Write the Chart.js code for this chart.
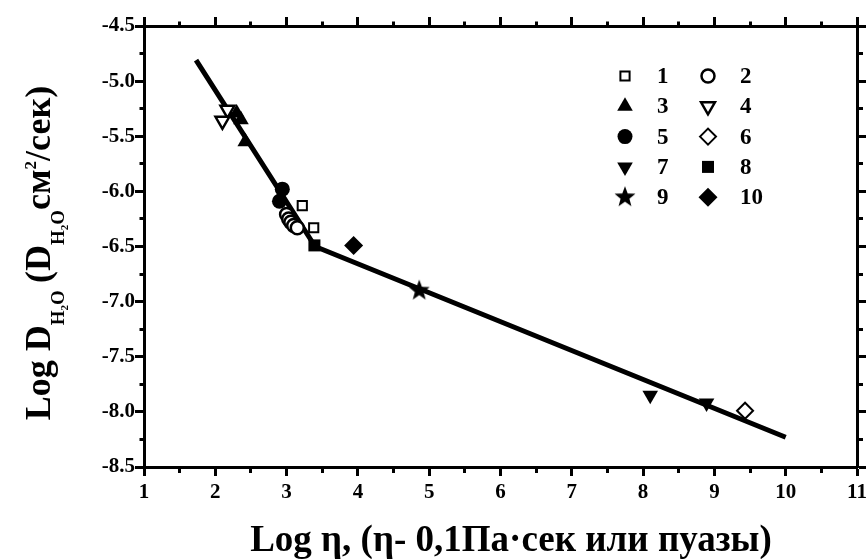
<!DOCTYPE html>
<html>
<head>
<meta charset="utf-8">
<script src="https://cdn.jsdelivr.net/npm/chart.js"></script>
<style>
    html, body { margin: 0; padding: 0; background: #fff; }
    #wrap { width: 868px; height: 559px; }
</style>
</head>
<body>
<div id="wrap"><canvas id="diffChart" width="868" height="559"></canvas></div>
<script>
var SERIF = "'Liberation Serif', 'Times New Roman', serif";

// Log eta / Log D pairs, one array per sample group
var set1 = [[3.22, -6.13], [3.38, -6.33]];
var set2 = [[3.00, -6.21], [3.03, -6.25], [3.06, -6.28], [3.10, -6.31], [3.15, -6.33]];
var set3 = [[2.30, -5.29], [2.36, -5.35], [2.42, -5.55]];
var set4 = [[2.17, -5.26], [2.10, -5.36]];
var set5 = [[2.94, -5.98], [2.90, -6.09]];
var set6 = [[9.43, -7.99]];
var set7 = [[8.10, -7.85], [8.89, -7.92]];
var set8 = [[3.39, -6.49]];
var set9 = [[4.86, -6.90]];
var set10 = [[3.94, -6.49]];

// broken fit line through the data
var fitLine = [[1.73, -4.81], [3.40, -6.50], [10.0, -8.23]];

var xRange = [1, 11];
var yRange = [-8.5, -4.5];
var xMajor = 1, yMajor = 0.5;

var xTitle = 'Log η, (η- 0,1Па·сек или пуазы)';
// [text, font size, baseline shift]
var yTitleParts = [
    ['Log D', 36, 0], ['H', 19, 14], ['2', 11, 18], ['O', 19, 14],
    ['\u2009(D', 36, 0], ['H', 19, 14], ['2', 11, 18], ['O', 19, 14],
    ['см', 36, 0], ['2', 17, -14], ['/сек)', 36, 0]
];

function pts(arr) {
    return arr.map(function (p) {
        return {x: p[0], y: p[1]};
    });
}

function makeStar(r) {
    var c = document.createElement('canvas');
    var s = Math.ceil(r * 2 + 2);
    c.width = s;
    c.height = s;
    var g = c.getContext('2d');
    g.fillStyle = '#000';
    g.beginPath();
    for (var i = 0; i < 10; i++) {
        var rr = i % 2 ? r * 0.42 : r;
        var a = -Math.PI / 2 + i * Math.PI / 5;
        g.lineTo(s / 2 + rr * Math.cos(a), s / 2 + rr * Math.sin(a));
    }
    g.closePath();
    g.fill();
    return c;
}

function isMajor(v, step) {
    var k = v / step;
    return Math.abs(k - Math.round(k)) < 1e-6;
}

function marker(label, data, style, radius, filled, rotation, bw) {
    return {
        label: label,
        data: pts(data),
        pointStyle: style,
        pointRadius: radius,
        pointHoverRadius: radius,
        pointRotation: rotation || 0,
        backgroundColor: filled ? '#000' : '#fff',
        borderColor: '#000',
        borderWidth: filled ? 0 : (bw || 2),
        pointBorderWidth: filled ? 0 : (bw || 2)
    };
}

// minor ticks reuse the major tick line but only the first 4px is drawn
function gridOpts(step, dashOffset) {
    return {
        drawOnChartArea: false,
        drawTicks: true,
        tickLength: 9,
        tickWidth: 3,
        tickColor: '#000',
        tickBorderDash: function (c) {
            return c.tick && isMajor(c.tick.value, step) ? [] : [4, 30];
        },
        tickBorderDashOffset: function (c) {
            return c.tick && isMajor(c.tick.value, step) ? 0 : dashOffset;
        }
    };
}

var axisBorder = {display: true, width: 3, color: '#000'};
var tickFont = {family: SERIF, size: 21, weight: 'bold'};

var legendGrid = {
    id: 'legendGrid',
    afterDatasetsDraw: function (chart) {
        var ctx = chart.ctx;
        var sets = chart.data.datasets.filter(function (d) {
            return !d.isFit;
        });
        sets.forEach(function (ds, i) {
            var col = i % 2, row = Math.floor(i / 2);
            var sx = 625 + col * 83;
            var sy = 76 + row * 30.3;
            ctx.save();
            ctx.fillStyle = ds.backgroundColor;
            ctx.strokeStyle = ds.borderColor;
            ctx.lineWidth = ds.pointBorderWidth;
            Chart.helpers.drawPoint(ctx, {
                pointStyle: ds.pointStyle,
                rotation: ds.pointRotation,
                radius: ds.pointRadius,
                borderWidth: ds.pointBorderWidth
            }, sx, sy);
            ctx.fillStyle = '#000';
            ctx.font = 'bold 23px ' + SERIF;
            ctx.textAlign = 'left';
            ctx.textBaseline = 'middle';
            ctx.fillText(ds.label, sx + 32, sy + 1);
            ctx.restore();
        });
    }
};

// axis titles: the y title needs sub/superscripts, so both are drawn here
var axisTitles = {
    id: 'axisTitles',
    afterDraw: function (chart) {
        var ctx = chart.ctx;
        ctx.save();
        ctx.fillStyle = '#000';
        ctx.textBaseline = 'alphabetic';

        ctx.font = 'bold 37px ' + SERIF;
        ctx.textAlign = 'center';
        ctx.fillText(xTitle, 511, 551);

        ctx.textAlign = 'left';
        var total = 0;
        yTitleParts.forEach(function (p) {
            ctx.font = 'bold ' + p[1] + 'px ' + SERIF;
            total += ctx.measureText(p[0]).width;
        });
        ctx.translate(50, 253);
        ctx.rotate(-Math.PI / 2);
        var u = -total / 2;
        yTitleParts.forEach(function (p) {
            ctx.font = 'bold ' + p[1] + 'px ' + SERIF;
            ctx.fillText(p[0], u, p[2]);
            u += ctx.measureText(p[0]).width;
        });
        ctx.restore();
    }
};

var datasets = [
    marker('1', set1, 'rect', 6.5, false, 0, 2),
    marker('2', set2, 'circle', 6.5, false, 0, 2.5),
    marker('3', set3, 'triangle', 9, true),
    marker('4', set4, 'triangle', 8, false, 180, 2.5),
    marker('5', set5, 'circle', 7.5, true),
    marker('6', set6, 'rectRot', 8, false, 0, 2),
    marker('7', set7, 'triangle', 9, true, 180),
    marker('8', set8, 'rect', 8.5, true),
    marker('9', set9, makeStar(11), 11, true),
    marker('10', set10, 'rectRot', 9.5, true),
    {
        label: 'fit',
        isFit: true,
        data: pts(fitLine),
        showLine: true,
        pointRadius: 0,
        borderColor: '#000',
        borderWidth: 5,
        borderJoinStyle: 'round',
        fill: false
    }
];

new Chart(document.getElementById('diffChart'), {
    type: 'scatter',
    data: {datasets: datasets},
    options: {
        responsive: false,
        animation: false,
        layout: {padding: 0},
        plugins: {legend: {display: false}, tooltip: {enabled: false}},
        scales: {
            x: {
                type: 'linear', position: 'bottom', min: xRange[0], max: xRange[1],
                ticks: {
                    stepSize: xMajor / 2, maxTicksLimit: 100, autoSkip: false, maxRotation: 0, padding: 4,
                    color: '#000', font: tickFont,
                    callback: function (v) {
                        return isMajor(v, xMajor) ? String(Math.round(v)) : '';
                    }
                },
                grid: gridOpts(xMajor, 0),
                border: axisBorder,
                afterFit: function (s) {
                    s.height = 92;
                    s.paddingLeft = 0;
                    s.paddingRight = 0;
                }
            },
            x2: {
                type: 'linear', position: 'top', min: xRange[0], max: xRange[1],
                ticks: {display: false, stepSize: xMajor / 2, maxTicksLimit: 100, autoSkip: false},
                grid: gridOpts(xMajor, 29.5),
                border: axisBorder,
                afterFit: function (s) {
                    s.height = 26;
                    s.paddingLeft = 0;
                    s.paddingRight = 0;
                }
            },
            y: {
                type: 'linear', position: 'left', min: yRange[0], max: yRange[1],
                ticks: {
                    stepSize: yMajor / 2, maxTicksLimit: 100, autoSkip: false, padding: 0,
                    color: '#000', font: tickFont,
                    callback: function (v) {
                        return isMajor(v, yMajor) ? v.toFixed(1) : '';
                    }
                },
                grid: gridOpts(yMajor, 29.5),
                border: axisBorder,
                afterFit: function (s) {
                    s.width = 144;
                    s.paddingTop = 0;
                    s.paddingBottom = 0;
                }
            },
            y2: {
                type: 'linear', position: 'right', min: yRange[0], max: yRange[1],
                ticks: {display: false, stepSize: yMajor / 2, maxTicksLimit: 100, autoSkip: false},
                grid: gridOpts(yMajor, 0),
                border: axisBorder,
                afterFit: function (s) {
                    s.width = 9;
                    s.paddingTop = 0;
                    s.paddingBottom = 0;
                }
            }
        }
    },
    plugins: [legendGrid, axisTitles]
});
</script>
</body>
</html>
